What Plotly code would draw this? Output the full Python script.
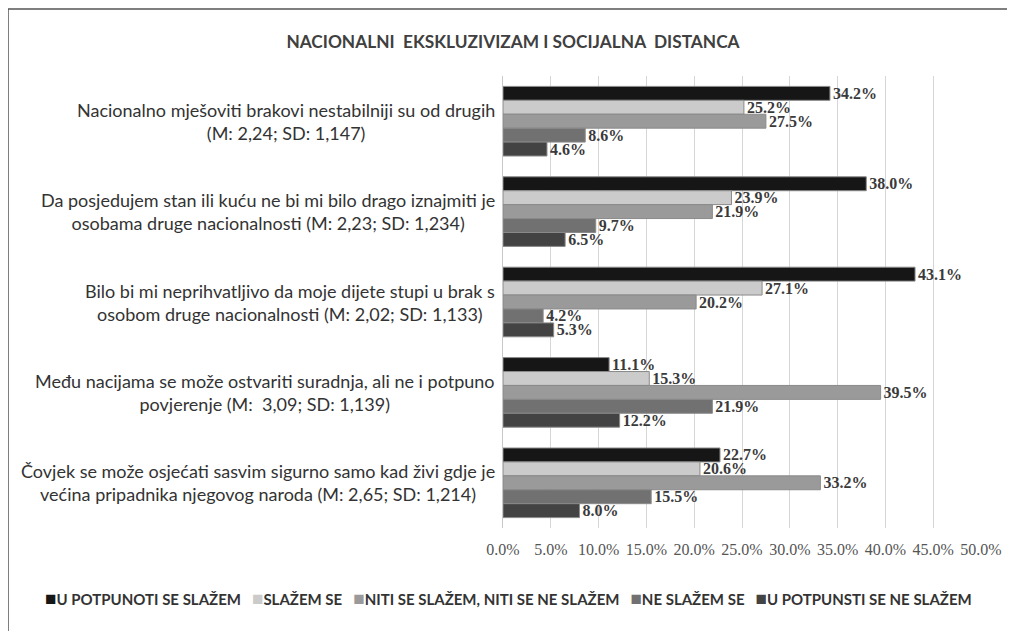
import plotly.graph_objects as go

categories = [
    "Nacionalno mješoviti brakovi nestabilniji su od drugih<br>(M: 2,24; SD: 1,147)",
    "Da posjedujem stan ili kuću ne bi mi bilo drago iznajmiti je<br>osobama druge nacionalnosti (M: 2,23; SD: 1,234)",
    "Bilo bi mi neprihvatljivo da moje dijete stupi u brak s<br>osobom druge nacionalnosti (M: 2,02; SD: 1,133)",
    "Među nacijama se može ostvariti suradnja, ali ne i potpuno<br>povjerenje (M:  3,09; SD: 1,139)",
    "Čovjek se može osjećati sasvim sigurno samo kad živi gdje je<br>većina pripadnika njegovog naroda (M: 2,65; SD: 1,214)",
]
cat_keys = ["q1", "q2", "q3", "q4", "q5"]

series_names = [
    "U POTPUNOTI SE SLAŽEM",
    "SLAŽEM SE",
    "NITI SE SLAŽEM, NITI SE NE SLAŽEM",
    "NE SLAŽEM SE",
    "U POTPUNSTI SE NE SLAŽEM",
]
u_potpunosti = [34.2, 38.0, 43.1, 11.1, 22.7]
slazem = [25.2, 23.9, 27.1, 15.3, 20.6]
niti = [27.5, 21.9, 20.2, 39.5, 33.2]
ne_slazem = [8.6, 9.7, 4.2, 21.9, 15.5]
u_potpunosti_ne = [4.6, 6.5, 5.3, 12.2, 8.0]
series_values = [u_potpunosti, slazem, niti, ne_slazem, u_potpunosti_ne]
colors = ["#161616", "#cbcbcb", "#9a9a9a", "#717171", "#434343"]

x_ticks = [0, 5, 10, 15, 20, 25, 30, 35, 40, 45, 50]

W, H = 999, 623
L, R, T, B = 495, 26, 68, 103
plot_h = H - T - B
plot_w = W - L - R

fig = go.Figure()
for name, vals, col in zip(series_names, series_values, colors):
    fig.add_trace(go.Bar(
        y=cat_keys, x=vals, name=name, orientation="h",
        marker=dict(color=col, line=dict(color="#8a8a8a", width=1)),
        text=[f"{v:.1f}%" for v in vals], textposition="outside",
        constraintext="none", cliponaxis=False,
        textfont=dict(family="Liberation Serif", size=16, color="#3a3a3a", weight="bold"),
    ))

for key, label in zip(cat_keys, categories):
    fig.add_annotation(
        x=-0.0126, xref="paper", y=key, yref="y", text=label, showarrow=False,
        xanchor="right", yanchor="middle", align="center",
        font=dict(family="Lato", size=18, color="#333333"),
    )

# legend built as one line of text with coloured squares
legend_parts = [f"<span style='color:{c};font-size:19px'>■</span>{n}" for n, c in zip(series_names, colors)]
fig.add_annotation(
    x=0.0105, xref="paper", y=(plot_h - (589 - T)) / plot_h, yref="paper",
    xanchor="center", yanchor="middle", showarrow=False,
    text="   ".join(legend_parts),
    font=dict(family="Lato", size=15, color="#333333", weight="bold"),
)

# outer frame: only top and left edges are visible in the reference
x_left = -L / plot_w
y_top = (plot_h + T - 1) / plot_h
fig.add_shape(type="line", xref="paper", yref="paper",
              x0=x_left, y0=y_top, x1=1.2, y1=y_top,
              line=dict(color="#555555", width=1.5), layer="below")
fig.add_shape(type="line", xref="paper", yref="paper",
              x0=x_left, y0=y_top, x1=x_left, y1=-0.4,
              line=dict(color="#555555", width=1.5), layer="below")

fig.update_layout(
    width=W, height=H,
    margin=dict(l=L, r=R, t=T, b=B, autoexpand=False),
    paper_bgcolor="white", plot_bgcolor="white",
    barmode="group", bargap=0.23, bargroupgap=0,
    showlegend=False,
    title=dict(text="<b>NACIONALNI  EKSKLUZIVIZAM I SOCIJALNA  DISTANCA</b>",
               x=505 / W, xref="container", xanchor="center",
               y=1 - 34 / H, yref="container", yanchor="middle",
               font=dict(family="Lato", size=17.3, color="#404040")),
    xaxis=dict(range=[0, 50], tickvals=x_ticks, ticktext=[f"{t:.1f}%" for t in x_ticks],
               showgrid=True, gridcolor="#d6d6d6", gridwidth=1, zeroline=False,
               showline=False, ticks="", ticklabelstandoff=10,
               tickfont=dict(family="Liberation Serif", size=16, color="#555555")),
    yaxis=dict(autorange="reversed", showticklabels=False, showgrid=False,
               zeroline=False, showline=True, linecolor="#c8c8c8", ticks=""),
)

fig.write_html("out.html")
